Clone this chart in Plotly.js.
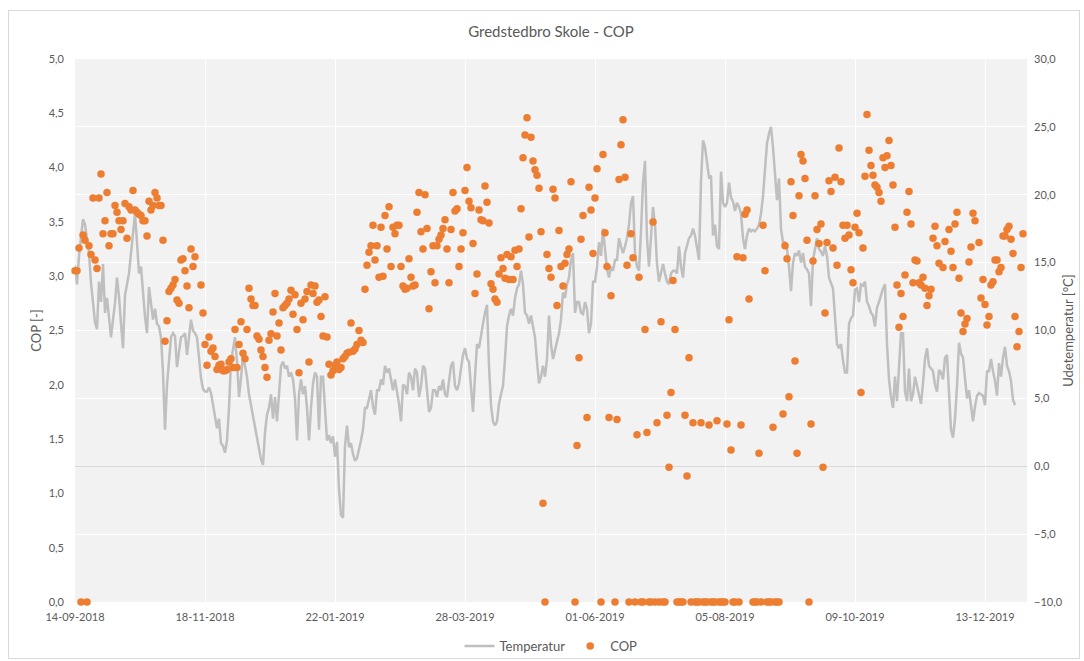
<!DOCTYPE html>
<html>
<head>
<meta charset="utf-8">
<script src="https://cdn.plot.ly/plotly-3.0.1.min.js"></script>
<style>
  html, body { margin: 0; padding: 0; background: #ffffff; }
  #wrap { position: relative; width: 1084px; height: 661px; }
  #chart { position: absolute; left: 0; top: 0; width: 1084px; height: 661px; }
  #frame { position: absolute; left: 8px; top: 10px; width: 1070px; height: 647px;
           border: 1px solid #d9d9d9; pointer-events: none; }
</style>
</head>
<body>
<div id="wrap"><div id="chart"></div><div id="frame"></div></div>
<script>
// Daily series starting on this date (one value per day)
const START_DATE = '2018-09-14';

// Outdoor temperature [°C], daily
const temperatur = [
14.8,13.4,15.5,17.0,18.2,17.8,16.8,15.7,13.5,11.8,
10.6,10.1,13.6,12.1,14.9,11.3,12.4,11.0,9.5,10.8,
12.0,13.9,12.5,10.5,8.7,12.6,13.4,14.2,15.7,17.0,
18.6,16.5,14.2,14.7,12.6,11.0,9.8,13.2,12.0,10.8,
11.6,10.5,10.3,9.5,6.9,2.7,6.0,7.9,9.5,9.8,
9.6,7.3,8.5,9.5,9.6,9.8,8.2,9.5,10.8,10.0,
9.8,9.5,8.2,6.5,5.7,5.5,5.5,5.8,5.4,4.6,
3.5,2.8,3.5,1.7,1.5,1.0,1.9,4.3,7.7,8.7,
9.5,7.7,5.1,6.5,8.2,7.4,6.6,5.3,4.5,3.6,
2.8,2.2,1.4,0.5,0.1,2.5,3.8,4.3,5.3,3.5,
5.1,3.3,5.3,7.4,7.7,7.2,7.4,6.6,6.9,6.4,
5.0,1.9,5.3,6.4,5.3,5.9,4.3,1.9,4.3,6.1,
6.9,6.6,2.7,6.6,6.6,4.3,1.9,2.3,1.7,2.2,
0.7,1.8,-1.7,-3.6,-3.8,1.5,3.0,1.4,1.7,0.9,
0.4,0.6,1.2,1.9,2.7,4.3,4.3,5.1,5.6,4.4,
3.8,5.6,5.6,6.4,6.0,7.4,6.9,7.2,6.4,5.6,
6.4,5.6,4.6,3.3,6.0,5.9,5.3,6.9,6.6,5.6,
7.2,6.9,5.1,5.9,7.4,7.2,5.3,4.0,4.3,5.6,
5.6,5.1,5.9,5.6,6.4,5.3,5.1,6.4,7.4,7.7,
5.9,5.6,6.1,7.2,8.2,8.7,7.9,7.7,6.0,4.0,
6.6,9.0,8.7,9.8,10.5,11.3,11.9,7.4,4.5,3.3,
3.0,3.3,4.6,5.3,5.9,7.9,10.3,11.1,11.6,11.1,
12.4,13.1,13.4,14.4,13.4,11.3,11.1,10.5,11.1,10.3,
9.5,7.7,6.1,6.6,7.4,6.6,7.9,11.1,9.0,7.9,
8.7,9.2,9.8,10.8,12.8,12.4,13.4,13.9,15.2,15.7,
11.3,12.1,12.1,11.3,11.2,12.1,11.6,9.8,10.5,13.6,
13.6,14.7,16.5,15.5,17.5,15.7,14.5,13.9,14.7,14.4,
15.2,15.2,16.8,16.2,15.7,16.2,16.8,17.8,19.4,19.9,
15.7,14.7,14.4,17.3,20.9,22.5,16.8,14.7,17.3,19.1,
17.8,14.9,13.6,14.2,14.9,14.2,13.6,13.4,14.2,14.4,
14.4,14.2,16.2,14.7,13.9,15.7,16.2,16.8,17.0,17.5,
17.0,16.0,15.2,21.0,24.0,23.5,22.5,21.3,21.4,17.0,
17.8,16.2,16.0,21.7,19.4,19.1,19.4,20.9,19.8,19.5,
18.8,19.4,19.1,18.6,16.8,16.0,17.0,17.5,17.3,17.4,
17.3,17.5,17.8,18.6,19.9,21.7,23.8,24.5,25.0,23.5,
21.4,19.6,21.2,17.5,16.5,16.5,16.0,14.7,12.9,15.0,
15.7,15.5,15.9,15.0,15.7,14.7,14.5,14.2,11.8,15.2,
16.0,16.8,16.0,15.8,15.5,16.2,15.5,13.9,13.5,13.1,
11.0,9.0,8.7,9.0,7.8,6.9,6.9,10.5,10.9,11.1,
13.0,13.1,12.1,13.4,13.3,13.6,12.1,11.8,11.3,11.1,
10.3,11.7,12.1,12.6,13.1,13.4,9.0,6.4,5.1,4.3,
6.6,4.8,7.7,9.8,9.8,5.5,4.8,7.2,4.8,5.3,
6.6,5.9,5.3,4.6,6.1,7.9,8.7,7.4,7.2,7.0,
6.0,5.5,7.1,6.9,6.4,8.0,8.2,5.4,2.7,2.1,
3.5,5.9,9.1,8.3,8.0,6.5,5.0,5.6,4.5,3.3,
4.4,5.2,5.4,5.3,5.2,4.5,7.0,7.0,7.9,7.0,
6.3,5.2,7.6,6.6,8.0,8.8,7.4,7.0,6.3,4.9,4.5
];

// COP [-], daily (null = no value)
const cop = [
3.05,3.05,3.26,0,3.38,3.33,0,3.28,3.2,3.72,
3.15,3.07,3.72,3.94,3.39,3.51,3.77,3.28,3.39,3.39,
3.65,3.59,3.51,3.43,3.51,3.67,3.35,3.64,3.61,3.79,
3.61,3.59,3.57,3.56,3.51,3.51,3.37,3.69,3.61,3.65,
3.77,3.72,3.65,3.65,3.33,2.4,2.59,2.86,2.89,2.92,
2.97,2.78,2.75,3.15,3.16,3.05,2.91,2.71,3.25,3.09,
3.18,null,null,2.92,2.66,2.37,2.18,2.44,2.31,2.34,
2.26,2.14,2.18,2.19,2.13,2.13,2.14,2.21,2.24,2.16,
2.51,2.16,2.37,2.58,2.29,2.24,2.51,2.89,2.79,2.73,
2.73,2.45,2.42,2.32,2.26,2.16,2.07,2.41,2.47,2.67,
2.84,2.45,2.57,2.32,2.71,2.73,2.75,2.79,2.87,2.65,
2.83,2.51,2.11,2.75,2.6,2.79,2.86,2.21,2.92,2.84,
2.91,2.76,2.78,2.63,2.45,2.81,2.44,2.19,2.09,2.13,
2.18,2.21,2.14,2.16,2.24,2.26,2.29,2.3,2.57,2.31,
2.33,2.37,2.5,2.41,2.39,2.88,3.1,3.22,3.28,3.47,
3.15,3.28,2.99,3.45,3.0,3.56,3.25,3.64,3.09,3.45,
3.39,3.47,3.47,3.09,2.91,2.88,2.89,3.16,2.99,2.91,
2.92,3.59,3.77,3.41,3.25,3.75,3.44,2.7,3.04,3.28,
2.94,3.28,3.34,3.38,3.44,3.52,3.25,2.94,3.43,3.77,
3.6,3.62,3.09,3.25,3.4,3.79,4.0,3.69,3.63,3.3,
2.84,3.02,3.61,3.52,3.51,3.83,3.68,3.49,2.93,2.88,
2.79,2.76,3.02,3.17,3.07,2.98,3.2,2.97,3.18,2.97,
3.24,3.09,3.25,3.62,4.09,4.30,4.46,3.36,4.28,4.06,
3.98,3.93,3.81,3.41,0.91,0,3.2,3.07,2.99,3.8,
3.72,2.73,3.42,3.09,2.91,3.12,3.2,3.25,3.87,null,
0,1.44,2.25,3.34,3.56,null,1.7,3.82,3.61,3.21,
3.72,3.99,null,0,4.12,3.4,3.09,1.7,2.82,null,
0,1.68,3.89,4.21,4.44,3.91,3.1,0,3.39,3.17,
0,1.54,2.99,0,0,2.51,1.56,0,0,3.5,
0,1.65,0,2.58,0,0,1.72,1.24,1.93,2.96,
2.51,0,0,0,0,1.72,1.16,2.25,0,1.65,
0,0,0,1.65,0,0,0,1.63,0,0,
0,1.67,0,0,0,0,1.64,2.6,1.4,0,
0,3.18,0,1.63,3.17,3.57,3.61,2.79,null,0,
0,0,1.37,0,3.47,3.05,0,0,0,1.61,
0,0,0,null,1.73,3.28,3.16,1.89,3.87,3.56,
2.22,1.37,3.74,4.12,4.06,3.9,3.33,0,1.64,3.14,
3.74,3.43,3.3,3.48,1.24,2.66,3.31,3.88,3.78,3.26,
3.91,3.1,4.18,3.87,3.47,3.35,3.47,3.38,3.06,2.94,
3.45,3.58,3.4,1.93,3.26,3.92,4.49,4.16,4.02,3.93,
3.84,3.82,3.77,3.69,4.09,4.0,4.11,4.25,4.02,3.84,
3.45,2.92,2.53,2.84,2.63,3.01,3.59,3.78,3.48,2.94,
3.15,3.14,2.94,2.92,2.99,2.89,2.73,2.82,2.88,3.35,
3.46,3.28,3.12,null,3.08,3.32,null,3.43,3.23,3.08,
3.48,3.59,2.98,2.66,2.49,2.56,2.61,3.13,3.27,3.58,
3.51,null,3.31,2.8,2.97,2.74,2.55,2.63,2.92,2.95,
3.15,3.15,3.04,3.08,3.37,3.37,3.43,3.46,3.34,3.21,
2.63,2.35,2.49,3.08,3.39
];

// X-axis tick positions and labels
const tickDates  = ['2018-09-14','2018-11-18','2019-01-22','2019-03-28','2019-06-01','2019-08-05','2019-10-09','2019-12-13'];
const tickLabels = ['14-09-2018','18-11-2018','22-01-2019','28-03-2019','01-06-2019','05-08-2019','09-10-2019','13-12-2019'];
const xRange = ['2018-09-14', '2020-01-03'];

function dayDates(n) {
  const t0 = Date.parse(START_DATE + 'T00:00:00Z');
  const out = [];
  for (let i = 0; i < n; i++) out.push(new Date(t0 + i * 86400000).toISOString().slice(0, 10));
  return out;
}

const FONT = 'Lato, "Open Sans", sans-serif';
const GREY = '#595959';

const traces = [
  {
    name: 'Temperatur',
    x: dayDates(temperatur.length),
    y: temperatur,
    type: 'scatter',
    mode: 'lines',
    yaxis: 'y',
    line: { color: '#bfbfbf', width: 2.5 },
    hoverinfo: 'x+y'
  },
  {
    name: 'COP',
    x: dayDates(cop.length),
    y: cop,
    type: 'scatter',
    mode: 'markers',
    yaxis: 'y2',
    cliponaxis: false,
    marker: { color: '#ed7d31', size: 7.5 },
    hoverinfo: 'x+y'
  }
];

const layout = {
  width: 1084,
  height: 661,
  margin: { l: 75, r: 57, t: 59, b: 59, pad: 0, autoexpand: false },
  paper_bgcolor: '#ffffff',
  plot_bgcolor: '#f2f2f2',
  separators: ', ',
  font: { family: FONT, color: GREY, size: 11 },
  title: {
    text: 'Gredstedbro Skole - COP',
    font: { family: FONT, size: 15, color: GREY },
    x: 0.5, xref: 'paper', xanchor: 'center',
    y: 1 - 32 / 661, yref: 'container', yanchor: 'middle'
  },
  showlegend: true,
  legend: {
    orientation: 'h',
    x: 0.5, xanchor: 'center', xref: 'paper',
    y: 1 - 646 / 661, yanchor: 'middle', yref: 'container',
    font: { family: FONT, size: 13, color: GREY },
    itemwidth: 30,
    bgcolor: 'rgba(0,0,0,0)'
  },
  xaxis: {
    type: 'date',
    range: xRange,
    tickmode: 'array',
    tickvals: tickDates,
    ticktext: tickLabels,
    ticks: '',
    ticklabelstandoff: 7,
    showgrid: true,
    gridcolor: '#ffffff',
    gridwidth: 1,
    zeroline: false,
    showline: false,
    automargin: false,
    tickfont: { family: FONT, size: 11, color: GREY },
    fixedrange: true
  },
  yaxis: {
    range: [-10, 30],
    dtick: 5,
    tick0: -10,
    tickformat: '.1f',
    side: 'right',
    showgrid: true,
    gridcolor: '#ffffff',
    gridwidth: 1,
    zeroline: true,
    zerolinecolor: '#d9d9d9',
    zerolinewidth: 1.5,
    showline: false,
    ticks: '',
    ticklabelstandoff: 6,
    automargin: false,
    tickfont: { family: FONT, size: 11, color: GREY },
    title: { text: 'Udetemperatur [°C]', font: { family: FONT, size: 13, color: GREY }, standoff: 2 },
    fixedrange: true
  },
  yaxis2: {
    overlaying: 'y',
    side: 'left',
    range: [0, 5],
    dtick: 0.5,
    tick0: 0,
    tickformat: '.1f',
    showgrid: false,
    zeroline: false,
    showline: false,
    ticks: '',
    ticklabelstandoff: 10,
    automargin: false,
    tickfont: { family: FONT, size: 11, color: GREY },
    title: { text: 'COP [-]', font: { family: FONT, size: 13, color: GREY }, standoff: 4 },
    fixedrange: true
  }
};

Plotly.newPlot('chart', traces, layout, { displayModeBar: false, staticPlot: true });
</script>
</body>
</html>
